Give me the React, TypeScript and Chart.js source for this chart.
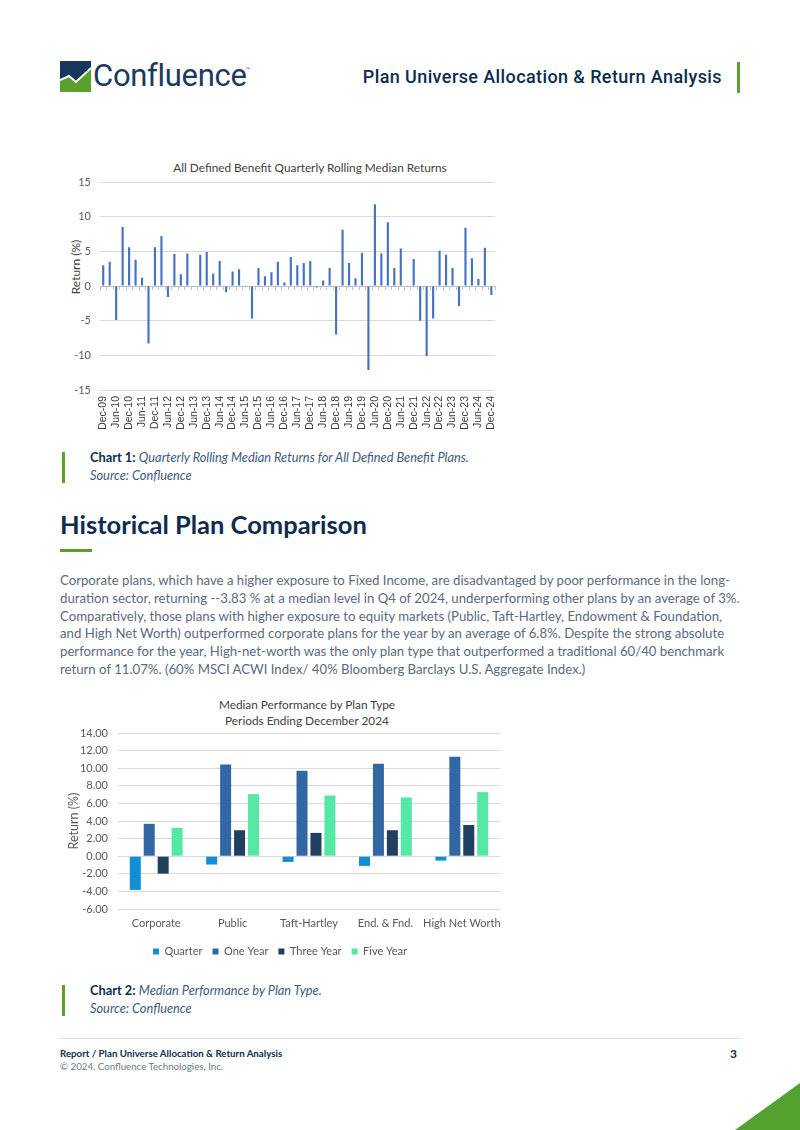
import React, { useEffect, useRef } from "react";
import { Chart, registerables } from "chart.js";
Chart.register(...registerables);

// ---------- Chart 1 data ----------
const quarterLabels = [
  "Dec-09","Mar-10","Jun-10","Sep-10","Dec-10","Mar-11","Jun-11","Sep-11","Dec-11",
  "Mar-12","Jun-12","Sep-12","Dec-12","Mar-13","Jun-13","Sep-13","Dec-13",
  "Mar-14","Jun-14","Sep-14","Dec-14","Mar-15","Jun-15","Sep-15","Dec-15",
  "Mar-16","Jun-16","Sep-16","Dec-16","Mar-17","Jun-17","Sep-17","Dec-17",
  "Mar-18","Jun-18","Sep-18","Dec-18","Mar-19","Jun-19","Sep-19","Dec-19",
  "Mar-20","Jun-20","Sep-20","Dec-20","Mar-21","Jun-21","Sep-21","Dec-21",
  "Mar-22","Jun-22","Sep-22","Dec-22","Mar-23","Jun-23","Sep-23","Dec-23",
  "Mar-24","Jun-24","Sep-24","Dec-24",
];
const quarterlyReturns = [
  3.0, 3.5, -4.9, 8.5, 5.6, 3.8, 1.2, -8.3, 5.6, 7.2,
  -1.6, 4.6, 1.7, 4.7, -0.1, 4.5, 4.9, 1.8, 3.6, -0.9,
  2.1, 2.4, 0.1, -4.7, 2.6, 1.4, 2.0, 3.5, 0.5, 4.2,
  3.0, 3.3, 3.6, -0.2, 0.8, 2.6, -7.0, 8.1, 3.3, 1.1,
  4.8, -12.1, 11.8, 4.7, 9.2, 2.6, 5.4, 0.1, 3.9, -5.0,
  -10.1, -4.7, 5.1, 4.5, 2.6, -2.9, 8.4, 4.0, 1.0, 5.5,
  -1.3,
];

// ---------- Chart 2 data ----------
const planTypes = ["Corporate", "Public", "Taft-Hartley", "End. & Fnd.", "High Net Worth"];
const quarterValues = [-3.83, -0.95, -0.65, -1.1, -0.5];
const oneYearValues = [3.68, 10.42, 9.7, 10.5, 11.3];
const threeYearValues = [-1.98, 2.95, 2.65, 2.95, 3.55];
const fiveYearValues = [3.22, 7.05, 6.9, 6.68, 7.28];
const seriesNames = ["Quarter", "One Year", "Three Year", "Five Year"];
const seriesColors = ["#128fd4", "#3168a3", "#213f5f", "#55e8a5"];

const paragraphLines = [
  "Corporate plans, which have a higher exposure to Fixed Income, are disadvantaged by poor performance in the long-",
  "duration sector, returning --3.83 % at a median level in Q4 of 2024, underperforming other plans by an average of 3%.",
  "Comparatively, those plans with higher exposure to equity markets (Public, Taft-Hartley, Endowment & Foundation,",
  "and High Net Worth) outperformed corporate plans for the year by an average of 6.8%. Despite the strong absolute",
  "performance for the year, High-net-worth was the only plan type that outperformed a traditional 60/40 benchmark",
  "return of 11.07%. (60% MSCI ACWI Index/ 40% Bloomberg Barclays U.S. Aggregate Index.)",
];

const NAVY = "#0e2c4e";
const GREEN = "#5aa02c";
const TICK = "#595959";
const GRID = "#d9d9d9";

const zeroTicksPlugin = {
  id: "zeroTicks",
  beforeDatasetsDraw(chart: any) {
    const { ctx, scales } = chart;
    const x = scales.x;
    const y = scales.y;
    const n = chart.data.labels.length;
    const y0 = y.getPixelForValue(0);
    const half = (x.getPixelForValue(1) - x.getPixelForValue(0)) / 2;
    ctx.save();
    ctx.strokeStyle = "#bfbfbf";
    ctx.lineWidth = 1;
    ctx.beginPath();
    for (let i = 0; i <= n; i++) {
      const px = Math.round((i < n ? x.getPixelForValue(i) - half : x.getPixelForValue(n - 1) + half)) + 0.5;
      ctx.moveTo(px, y0);
      ctx.lineTo(px, y0 + 4);
    }
    ctx.stroke();
    ctx.restore();
  },
};

const abs = (s: React.CSSProperties): React.CSSProperties => ({ position: "absolute", margin: 0, ...s });

export default function App() {
  const ref1 = useRef<HTMLCanvasElement>(null);
  const ref2 = useRef<HTMLCanvasElement>(null);

  useEffect(() => {
    Chart.defaults.font.family = "Lato";
    const c1 = new Chart(ref1.current!, {
      type: "bar",
      data: {
        labels: quarterLabels,
        datasets: [
          {
            data: quarterlyReturns,
            backgroundColor: "#4472c4",
            barPercentage: 0.33,
            categoryPercentage: 1,
          },
        ],
      },
      options: {
        animation: false,
        responsive: false,
        devicePixelRatio: 1,
        layout: { padding: { top: 27, right: 7, left: 0, bottom: 0 } },
        plugins: { legend: { display: false }, tooltip: { enabled: false } },
        scales: {
          x: {
            grid: { display: false, drawTicks: false },
            border: { display: false },
            ticks: {
              autoSkip: false,
              minRotation: 90,
              maxRotation: 90,
              padding: 6,
              color: "#3a3a3a",
              font: { family: "Liberation Sans", size: 10.5 },
              callback: (_v: any, i: number) => (i % 2 === 0 ? quarterLabels[i] : ""),
            },
            afterFit: (s: any) => {
              s.height = 50;
            },
          },
          y: {
            min: -15,
            max: 15,
            ticks: { stepSize: 5, color: TICK, padding: 9, font: { size: 11 } },
            grid: {
              drawTicks: false,
              color: (c: any) => (c.tick && c.tick.value === 0 ? "#bfbfbf" : GRID),
            },
            border: { display: false },
            afterFit: (s: any) => {
              s.width = 40;
            },
          },
        },
      },
      plugins: [zeroTicksPlugin],
    } as any);

    const values = [quarterValues, oneYearValues, threeYearValues, fiveYearValues];
    const c2 = new Chart(ref2.current!, {
      type: "bar",
      data: {
        labels: planTypes,
        datasets: seriesNames.map((name, i) => ({
          label: name,
          data: values[i],
          backgroundColor: seriesColors[i],
          categoryPercentage: 0.73,
          barPercentage: 0.79,
        })),
      },
      options: {
        animation: false,
        responsive: false,
        devicePixelRatio: 1,
        layout: { padding: { top: 41, right: 10, left: 0, bottom: 0 } },
        plugins: {
          tooltip: { enabled: false },
          legend: {
            position: "bottom",
            labels: {
              boxWidth: 6,
              boxHeight: 6,
              padding: 10,
              color: TICK,
              font: { size: 11 },
            },
          },
        },
        scales: {
          x: {
            grid: { display: false, drawTicks: false },
            border: { display: false },
            ticks: { color: TICK, padding: 8, font: { size: 11 }, maxRotation: 0, minRotation: 0, autoSkip: false },
            afterFit: (s: any) => {
              s.height = 27;
            },
          },
          y: {
            min: -6,
            max: 14,
            ticks: {
              stepSize: 2,
              color: TICK,
              padding: 10,
              font: { size: 11 },
              callback: (v: any) => Number(v).toFixed(2),
            },
            grid: { drawTicks: false, color: GRID },
            border: { display: false },
            title: {
              display: true,
              text: "Return (%)",
              color: TICK,
              font: { size: 12.5 },
              padding: { top: 6, bottom: 0 },
            },
            afterFit: (s: any) => {
              s.width = 58;
            },
          },
        },
      },
    } as any);

    return () => {
      c1.destroy();
      c2.destroy();
    };
  }, []);

  const font = "Lato, 'Open Sans', sans-serif";

  return (
    <div style={abs({ left: 0, top: 0, width: 800, height: 1130, background: "#fff", overflow: "hidden", fontFamily: font })}>
      {/* Header logo */}
      <svg width="31" height="31" viewBox="0 0 31 31" style={abs({ left: 60, top: 61 })}>
        <rect width="31" height="31" fill="#17375e" />
        <polygon points="0,19 9,15 16,21 31,7 31,31 0,31" fill={GREEN} />
        <polyline points="0,19 9,15 16,21 31,7" stroke="#fff" strokeWidth="2" fill="none" />
      </svg>
      <div style={abs({ left: 93, top: 57, fontFamily: "Roboto", fontSize: 31, lineHeight: "38px", color: "#1a3a5e", letterSpacing: -0.3 })}>
        Confluence
      </div>
      <div style={abs({ left: 246, top: 66, fontSize: 5, lineHeight: "6px", color: "#1a3a5e" })}>™</div>
      <div style={abs({ right: 78, top: 66, fontFamily: "Roboto", fontWeight: 500, fontSize: 18, lineHeight: "22px", color: NAVY, whiteSpace: "nowrap", letterSpacing: 0.4 })}>
        Plan Universe Allocation &amp; Return Analysis
      </div>
      <div style={abs({ left: 737, top: 62, width: 3, height: 31, background: GREEN })} />

      {/* Chart 1 */}
      <div style={abs({ left: 160, top: 160, width: 300, textAlign: "center", fontSize: 11.8, lineHeight: "16px", color: "#404040", whiteSpace: "nowrap" })}>
        All Defined Benefit Quarterly Rolling Median Returns
      </div>
      <div style={abs({ left: 36, top: 259, width: 80, height: 16, textAlign: "center", fontSize: 12, lineHeight: "16px", color: "#404040", transform: "rotate(-90deg)", whiteSpace: "nowrap" })}>
        Return (%)
      </div>
      <canvas ref={ref1} width={450} height={285} style={abs({ left: 60, top: 155 })} />

      {/* Caption 1 */}
      <div style={abs({ left: 62, top: 452, width: 3, height: 31, background: GREEN })} />
      <div style={abs({ left: 90, top: 448, fontSize: 12.8, lineHeight: "18px", color: "#41597a", whiteSpace: "nowrap" })}>
        <b style={{ color: NAVY }}>Chart 1:</b> <i>Quarterly Rolling Median Returns for All Defined Benefit Plans.</i>
        <br />
        <i>Source: Confluence</i>
      </div>

      {/* Heading */}
      <div style={abs({ left: 60, top: 509, fontSize: 25.5, fontWeight: 700, lineHeight: "30px", color: NAVY, whiteSpace: "nowrap" })}>
        Historical Plan Comparison
      </div>
      <div style={abs({ left: 60, top: 549, width: 32, height: 3, background: GREEN })} />

      {/* Paragraph */}
      <div style={abs({ left: 60, top: 572, fontSize: 13.2, lineHeight: "17.8px", color: "#5b6a7c" })}>
        {paragraphLines.map((l, i) => (
          <div key={i} style={{ whiteSpace: "nowrap" }}>{l}</div>
        ))}
      </div>

      {/* Chart 2 */}
      <div style={abs({ left: 157, top: 697, width: 300, textAlign: "center", fontSize: 11.8, lineHeight: "16px", color: "#404040", whiteSpace: "nowrap" })}>
        Median Performance by Plan Type
        <br />
        Periods Ending December 2024
      </div>
      <canvas ref={ref2} width={450} height={275} style={abs({ left: 60, top: 692 })} />

      {/* Caption 2 */}
      <div style={abs({ left: 62, top: 985, width: 3, height: 31, background: GREEN })} />
      <div style={abs({ left: 90, top: 981, fontSize: 12.8, lineHeight: "18px", color: "#41597a", whiteSpace: "nowrap" })}>
        <b style={{ color: NAVY }}>Chart 2:</b> <i>Median Performance by Plan Type.</i>
        <br />
        <i>Source: Confluence</i>
      </div>

      {/* Footer */}
      <div style={abs({ left: 60, top: 1038, width: 680, height: 1, background: "#dde1e6" })} />
      <div style={abs({ left: 60, top: 1047, fontSize: 9.7, fontWeight: 700, lineHeight: "12px", color: NAVY, whiteSpace: "nowrap" })}>
        Report / Plan Universe Allocation &amp; Return Analysis
      </div>
      <div style={abs({ left: 60, top: 1060, fontSize: 9.7, lineHeight: "12px", color: "#6b7785", whiteSpace: "nowrap" })}>
        © 2024. Confluence Technologies, Inc.
      </div>
      <div style={abs({ right: 63, top: 1047, fontSize: 12, fontWeight: 700, lineHeight: "14px", color: NAVY })}>3</div>
      <svg width="65" height="47" viewBox="0 0 65 47" style={abs({ left: 735, top: 1083 })}>
        <polygon points="65,0 65,47 0,47" fill="#55a130" />
      </svg>
    </div>
  );
}
